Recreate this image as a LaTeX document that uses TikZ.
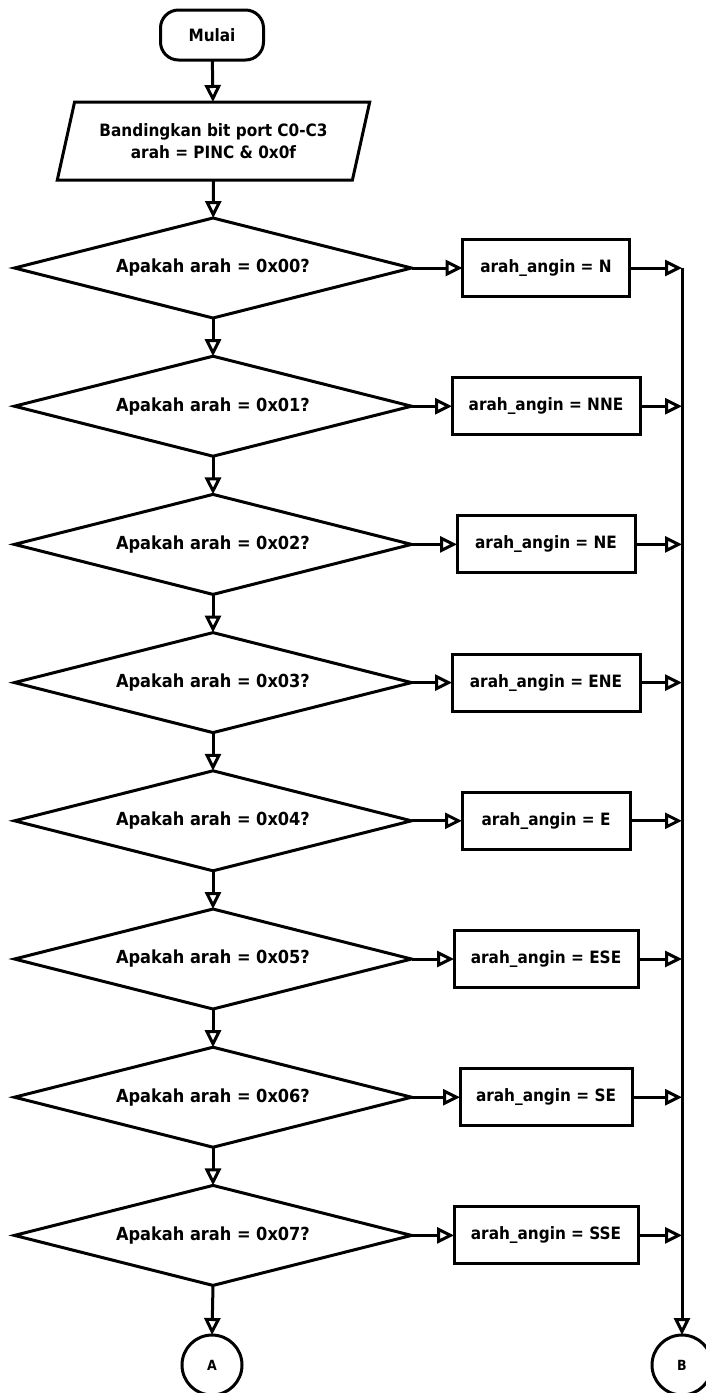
\documentclass[tikz,border=0pt]{standalone}
\usepackage{fontspec}
\setmainfont{DejaVu Sans Condensed}[BoldFont={DejaVu Sans Condensed Bold}]
\usetikzlibrary{shapes.geometric,arrows.meta}
\begin{document}
\begin{tikzpicture}[x=1pt,y=-1pt,
 every node/.style={font=\bfseries\fontsize{17}{22}\selectfont, line width=3pt, outer sep=0pt},
 flow/.style={line width=3pt, -{Triangle[open,length=17pt,width=16pt]}},
 dec/.style={draw, diamond, shape aspect=4, minimum width=397pt, minimum height=100pt, inner sep=0pt, font=\bfseries\fontsize{18}{22}\selectfont},
 proc/.style={draw, rectangle, minimum height=57pt, inner sep=0pt},
 term/.style={draw, rounded corners=18pt, minimum width=103pt, minimum height=50pt},
 conn/.style={draw, circle, minimum size=60pt, inner sep=0pt, font=\bfseries\fontsize{14}{16}\selectfont},
 io/.style={draw, trapezium, trapezium left angle=68, trapezium right angle=112, trapezium stretches=true, minimum width=313pt, minimum height=78pt, align=center, inner sep=0pt}
]
\useasboundingbox[fill=white] (0,0) rectangle (705,1393);
\node[term] (start) at (212,35) {Mulai};
\node[io] (io) at (213.5,141) {Bandingkan bit port C0-C3\\arah = PINC \& 0x0f};
\coordinate (vtop) at (682,268);
\foreach \i/\h/\d/\w in {0/00/N/167, 1/01/NNE/188, 2/02/NE/178, 3/03/ENE/188, 4/04/E/168, 5/05/ESE/184, 6/06/SE/172, 7/07/SSE/184}{
  \node[dec] (d\i) at (213,268+138.2*\i) {Apakah arah = 0x\h?};
  \node[proc, minimum width=\w pt] (b\i) at (546,268+138.2*\i) {arah\_angin = \d};
  \draw[flow] (d\i.east) -- (b\i.west);
  \draw[flow] (b\i.east) -- (b\i.east -| vtop);
}
\foreach \i [evaluate=\i as \j using int(\i+1)] in {0,...,6}{
  \draw[flow] (d\i.south) -- (d\j.north);
}
\node[conn] (A) at (212,1365) {A};
\node[conn] (B) at (682,1365) {B};
\draw[flow] (start) -- (io);
\draw[flow] (io) -- (d0);
\draw[flow] (d7.south) -- (A.north);
\draw[flow] (vtop) -- (B.north);
\end{tikzpicture}
\end{document}
